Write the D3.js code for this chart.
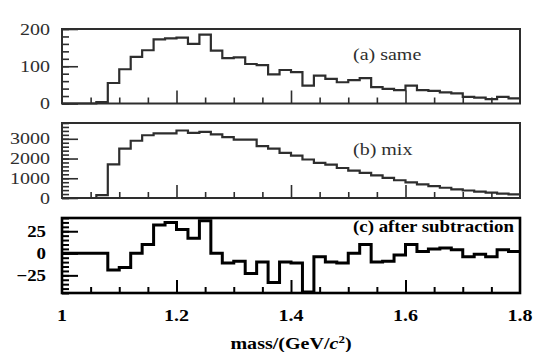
<!DOCTYPE html>
<html>
<head>
<meta charset="utf-8">
<script src="https://cdn.jsdelivr.net/npm/d3@7"></script>
<style>
  body { margin: 0; background: #fff; }
  svg { display: block; }
</style>
</head>
<body>
<script>
// mass spectra: same event, mixed event, and the difference

var binLow = [1.00, 1.02, 1.04, 1.06, 1.08, 1.10, 1.12, 1.14, 1.16, 1.18,
              1.20, 1.22, 1.24, 1.26, 1.28, 1.30, 1.32, 1.34, 1.36, 1.38,
              1.40, 1.42, 1.44, 1.46, 1.48, 1.50, 1.52, 1.54, 1.56, 1.58,
              1.60, 1.62, 1.64, 1.66, 1.68, 1.70, 1.72, 1.74, 1.76, 1.78];
var binHigh = 1.8;

var sameCounts = [0, 0, 0, 4, 55, 92, 125, 143, 172, 175,
                  177, 160, 185, 142, 122, 124, 106, 103, 78, 90,
                  84, 48, 75, 66, 57, 63, 68, 44, 39, 36,
                  48, 36, 34, 30, 27, 18, 16, 12, 18, 14];

var mixCounts = [0, 0, 0, 150, 1700, 2500, 2900, 3180, 3270, 3270,
                 3420, 3300, 3350, 3220, 3080, 2960, 2960, 2630, 2500, 2290,
                 2150, 1950, 1780, 1690, 1520, 1390, 1270, 1150, 1020, 900,
                 790, 690, 600, 520, 440, 380, 320, 270, 220, 180];

var subCounts = [0, 0, 0, 0, -19, -16, 0, 10, 32, 35,
                 27, 17, 37, 0, -11, -9, -23, -10, -33, -10,
                 -11, -44, -4, -10, -11, 0, 10, -10, -9, -2,
                 10, 2, 5, 6, 4, -4, -1, -4, 4, 2];

var sameTicks = [0, 100, 200];
var mixTicks = [0, 1000, 2000, 3000];
var subTicks = [-25, 0, 25];
var massTicks = [1, 1.2, 1.4, 1.6, 1.8];
var massMinor = [1.05, 1.1, 1.15, 1.25, 1.3, 1.35, 1.45, 1.5, 1.55, 1.65, 1.7, 1.75];
var massMajor = [1.2, 1.4, 1.6];

var width = 536, height = 352;

var svg = d3.select("body").append("svg")
    .attr("width", width)
    .attr("height", height);

var x = d3.scaleLinear().domain([1, 1.8]).range([62, 520]);

var panels = [
  { vals: sameCounts, ticks: sameTicks, name: "(a) same",
    y: d3.scaleLinear().domain([0, 200]).range([103.5, 29]),
    minorStep: 10, color: "#2e2e2e", width: 2.2, bold: false, labelY: 60 },
  { vals: mixCounts, ticks: mixTicks, name: "(b) mix",
    y: d3.scaleLinear().domain([0, 3800]).range([198, 123]),
    minorStep: 19, color: "#2e2e2e", width: 2.2, bold: false, labelY: 155 },
  { vals: subCounts, ticks: subTicks, name: "(c) after subtraction",
    y: d3.scaleLinear().domain([-45, 40]).range([293, 218]),
    minorStep: 17, color: "#000", width: 3, bold: true, labelY: 232 }
];

// serif text, stretched a bit sideways like the scanned figure
function txt(g, px, py, s, anchor, p, size) {
  return g.append("text")
      .attr("transform", "translate(" + px + "," + py + ") scale(" + (p.bold ? 1.18 : 1.25) + ",1)")
      .attr("text-anchor", anchor)
      .style("font-family", "'Liberation Serif', 'Times New Roman', serif")
      .style("font-size", (size || 16) + "px")
      .style("font-weight", p.bold ? "bold" : "normal")
      .attr("fill", p.color)
      .text(s);
}

panels.forEach(function(p) {
  var g = svg.append("g");
  var y = p.y;
  var y0 = y.range()[0], y1 = y.range()[1];

  // left ticks, pointing into the frame
  var yMinor = g.append("g")
      .attr("transform", "translate(" + x(1) + ",0)")
      .call(d3.axisLeft(y).ticks(p.minorStep).tickSize(-7).tickFormat(""));
  var yMajor = g.append("g")
      .attr("transform", "translate(" + x(1) + ",0)")
      .call(d3.axisLeft(y).tickValues(p.ticks).tickSize(-16).tickFormat(""));

  // bottom ticks
  var xMinor = g.append("g")
      .attr("transform", "translate(0," + y0 + ")")
      .call(d3.axisBottom(x).tickValues(massMinor).tickSize(-6).tickFormat(""));
  var xMajor = g.append("g")
      .attr("transform", "translate(0," + y0 + ")")
      .call(d3.axisBottom(x).tickValues(massMajor).tickSize(-13).tickFormat(""));

  [yMinor, yMajor, xMinor, xMajor].forEach(function(a) {
    a.select(".domain").remove();
    a.selectAll("line").attr("stroke", p.color).attr("stroke-width", p.bold ? 2 : 1.6);
  });

  // histogram as a step line
  var pts = binLow.map(function(m, i) { return [m, p.vals[i]]; });
  pts.push([binHigh, p.vals[p.vals.length - 1]]);

  var line = d3.line()
      .x(function(d) { return x(d[0]); })
      .y(function(d) { return y(d[1]); })
      .curve(d3.curveStepAfter);

  g.append("path")
      .datum(pts)
      .attr("d", line)
      .attr("fill", "none")
      .attr("stroke", p.color)
      .attr("stroke-width", p.width);

  // frame
  g.append("rect")
      .attr("x", x(1))
      .attr("y", y1)
      .attr("width", x(1.8) - x(1))
      .attr("height", y0 - y1)
      .attr("fill", "none")
      .attr("stroke", p.color)
      .attr("stroke-width", p.bold ? 2.6 : 2);

  // tick labels
  p.ticks.forEach(function(t) {
    var s = t < 0 ? "\u2212" + Math.abs(t) : String(t);
    txt(g, p.bold ? 46 : 50, y(t) + 5.5, s, "end", p);
  });

  txt(g, 353, p.labelY, p.name, "start", p);
});

// mass axis labels under the last panel
var axisStyle = { bold: true, color: "#000" };
massTicks.forEach(function(t) {
  txt(svg, x(t), 321, String(t), "middle", axisStyle, 17);
});

var title = svg.append("text")
    .attr("transform", "translate(" + x(1.4) + ",349) scale(1.18,1)")
    .attr("text-anchor", "middle")
    .style("font-family", "'Liberation Serif', 'Times New Roman', serif")
    .style("font-size", "17px")
    .style("font-weight", "bold")
    .attr("fill", "#000");
title.append("tspan").text("mass/(GeV/");
title.append("tspan").style("font-style", "italic").text("c");
title.append("tspan").attr("dy", -6).style("font-size", "11px").text("2");
title.append("tspan").attr("dy", 6).text(")");
</script>
</body>
</html>
